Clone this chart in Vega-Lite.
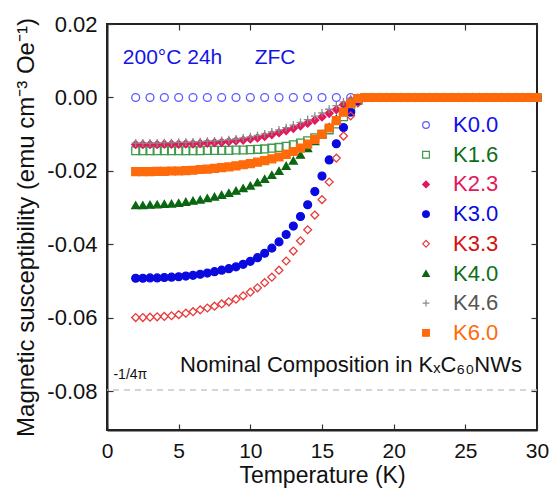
{
  "$schema": "https://vega.github.io/schema/vega-lite/v6.json",
  "width": 430,
  "height": 406,
  "autosize": {"type": "none"},
  "padding": {"left": 107, "top": 24, "right": 13, "bottom": 65},
  "background": "white",
  "config": {
    "font": "Liberation Sans",
    "view": {"stroke": "#222", "strokeWidth": 2},
    "axis": {
      "grid": false,
      "domainColor": "#222",
      "domainWidth": 2,
      "tickColor": "#333",
      "tickSize": -6,
      "tickWidth": 1.2,
      "labelFont": "Liberation Sans",
      "labelFontSize": 21,
      "labelColor": "#111",
      "labelFlush": false,
      "titleFont": "Liberation Sans",
      "titleFontSize": 23,
      "titleFontWeight": "normal",
      "titleColor": "#111"
    }
  },
  "resolve": {"axis": {"x": "independent", "y": "independent"}},
  "layer": [
    {
      "data": {"values": [{}]},
      "mark": {"type": "rule", "color": "#c8c8c8", "strokeDash": [6, 5], "strokeWidth": 1.5},
      "encoding": {
        "y": {"datum": -0.0796, "type": "quantitative", "axis": null}
      }
    },
    {
      "data": {
        "values": [
          {"s": "K0.0", "T": 2, "chi": 0}, {"s": "K0.0", "T": 3, "chi": 0}, {"s": "K0.0", "T": 4, "chi": 0}, {"s": "K0.0", "T": 5, "chi": 0},
          {"s": "K0.0", "T": 6, "chi": 0}, {"s": "K0.0", "T": 7, "chi": 0}, {"s": "K0.0", "T": 8, "chi": 0}, {"s": "K0.0", "T": 9, "chi": 0},
          {"s": "K0.0", "T": 10, "chi": 0}, {"s": "K0.0", "T": 11, "chi": 0}, {"s": "K0.0", "T": 12, "chi": 0}, {"s": "K0.0", "T": 13, "chi": 0},
          {"s": "K0.0", "T": 14, "chi": 0}, {"s": "K0.0", "T": 15, "chi": 0}, {"s": "K0.0", "T": 16, "chi": 0}, {"s": "K0.0", "T": 17, "chi": 0},
          {"s": "K0.0", "T": 18, "chi": 0}, {"s": "K0.0", "T": 19, "chi": 0}, {"s": "K0.0", "T": 20, "chi": 0}, {"s": "K0.0", "T": 21, "chi": 0},
          {"s": "K0.0", "T": 22, "chi": 0}, {"s": "K0.0", "T": 23, "chi": 0}, {"s": "K0.0", "T": 24, "chi": 0}, {"s": "K0.0", "T": 25, "chi": 0},
          {"s": "K0.0", "T": 26, "chi": 0}, {"s": "K0.0", "T": 27, "chi": 0}, {"s": "K0.0", "T": 28, "chi": 0}, {"s": "K0.0", "T": 29, "chi": 0},
          {"s": "K0.0", "T": 30, "chi": 0},

          {"s": "K1.6", "T": 2, "chi": -0.0145}, {"s": "K1.6", "T": 2.5, "chi": -0.0145}, {"s": "K1.6", "T": 3, "chi": -0.0145}, {"s": "K1.6", "T": 3.5, "chi": -0.0145},
          {"s": "K1.6", "T": 4, "chi": -0.0145}, {"s": "K1.6", "T": 4.5, "chi": -0.0145}, {"s": "K1.6", "T": 5, "chi": -0.0145}, {"s": "K1.6", "T": 5.5, "chi": -0.0145},
          {"s": "K1.6", "T": 6, "chi": -0.0145}, {"s": "K1.6", "T": 6.5, "chi": -0.0145}, {"s": "K1.6", "T": 7, "chi": -0.0144}, {"s": "K1.6", "T": 7.5, "chi": -0.0144},
          {"s": "K1.6", "T": 8, "chi": -0.0144}, {"s": "K1.6", "T": 8.5, "chi": -0.0144}, {"s": "K1.6", "T": 9, "chi": -0.0143}, {"s": "K1.6", "T": 9.5, "chi": -0.0143},
          {"s": "K1.6", "T": 10, "chi": -0.0142}, {"s": "K1.6", "T": 10.5, "chi": -0.0141}, {"s": "K1.6", "T": 11, "chi": -0.014}, {"s": "K1.6", "T": 11.5, "chi": -0.0138},
          {"s": "K1.6", "T": 12, "chi": -0.0136}, {"s": "K1.6", "T": 12.5, "chi": -0.0133}, {"s": "K1.6", "T": 13, "chi": -0.0129}, {"s": "K1.6", "T": 13.5, "chi": -0.0124},
          {"s": "K1.6", "T": 14, "chi": -0.0118}, {"s": "K1.6", "T": 14.5, "chi": -0.011}, {"s": "K1.6", "T": 15, "chi": -0.01}, {"s": "K1.6", "T": 15.5, "chi": -0.0088},
          {"s": "K1.6", "T": 16, "chi": -0.0072}, {"s": "K1.6", "T": 16.5, "chi": -0.0052}, {"s": "K1.6", "T": 17, "chi": -0.0028}, {"s": "K1.6", "T": 17.5, "chi": -0.0008},
          {"s": "K1.6", "T": 18, "chi": 0}, {"s": "K1.6", "T": 18.5, "chi": 0}, {"s": "K1.6", "T": 19, "chi": 0}, {"s": "K1.6", "T": 19.5, "chi": 0},
          {"s": "K1.6", "T": 20, "chi": 0}, {"s": "K1.6", "T": 20.5, "chi": 0}, {"s": "K1.6", "T": 21, "chi": 0}, {"s": "K1.6", "T": 21.5, "chi": 0},
          {"s": "K1.6", "T": 22, "chi": 0}, {"s": "K1.6", "T": 22.5, "chi": 0}, {"s": "K1.6", "T": 23, "chi": 0}, {"s": "K1.6", "T": 23.5, "chi": 0},
          {"s": "K1.6", "T": 24, "chi": 0}, {"s": "K1.6", "T": 24.5, "chi": 0}, {"s": "K1.6", "T": 25, "chi": 0}, {"s": "K1.6", "T": 25.5, "chi": 0},
          {"s": "K1.6", "T": 26, "chi": 0}, {"s": "K1.6", "T": 26.5, "chi": 0}, {"s": "K1.6", "T": 27, "chi": 0}, {"s": "K1.6", "T": 27.5, "chi": 0},
          {"s": "K1.6", "T": 28, "chi": 0}, {"s": "K1.6", "T": 28.5, "chi": 0}, {"s": "K1.6", "T": 29, "chi": 0}, {"s": "K1.6", "T": 29.5, "chi": 0},
          {"s": "K1.6", "T": 30, "chi": 0},

          {"s": "K2.3", "T": 2, "chi": -0.0128}, {"s": "K2.3", "T": 2.5, "chi": -0.0128}, {"s": "K2.3", "T": 3, "chi": -0.0128}, {"s": "K2.3", "T": 3.5, "chi": -0.0128},
          {"s": "K2.3", "T": 4, "chi": -0.0127}, {"s": "K2.3", "T": 4.5, "chi": -0.0127}, {"s": "K2.3", "T": 5, "chi": -0.0127}, {"s": "K2.3", "T": 5.5, "chi": -0.0126},
          {"s": "K2.3", "T": 6, "chi": -0.0126}, {"s": "K2.3", "T": 6.5, "chi": -0.0125}, {"s": "K2.3", "T": 7, "chi": -0.0124}, {"s": "K2.3", "T": 7.5, "chi": -0.0123},
          {"s": "K2.3", "T": 8, "chi": -0.0122}, {"s": "K2.3", "T": 8.5, "chi": -0.012}, {"s": "K2.3", "T": 9, "chi": -0.0118}, {"s": "K2.3", "T": 9.5, "chi": -0.0116},
          {"s": "K2.3", "T": 10, "chi": -0.0113}, {"s": "K2.3", "T": 10.5, "chi": -0.011}, {"s": "K2.3", "T": 11, "chi": -0.0106}, {"s": "K2.3", "T": 11.5, "chi": -0.0101},
          {"s": "K2.3", "T": 12, "chi": -0.0096}, {"s": "K2.3", "T": 12.5, "chi": -0.009}, {"s": "K2.3", "T": 13, "chi": -0.0084}, {"s": "K2.3", "T": 13.5, "chi": -0.0077},
          {"s": "K2.3", "T": 14, "chi": -0.007}, {"s": "K2.3", "T": 14.5, "chi": -0.0062}, {"s": "K2.3", "T": 15, "chi": -0.0053}, {"s": "K2.3", "T": 15.5, "chi": -0.0043},
          {"s": "K2.3", "T": 16, "chi": -0.0033}, {"s": "K2.3", "T": 16.5, "chi": -0.002}, {"s": "K2.3", "T": 17, "chi": -0.0008}, {"s": "K2.3", "T": 17.5, "chi": -0.0002},
          {"s": "K2.3", "T": 18, "chi": 0}, {"s": "K2.3", "T": 18.5, "chi": 0}, {"s": "K2.3", "T": 19, "chi": 0}, {"s": "K2.3", "T": 19.5, "chi": 0},
          {"s": "K2.3", "T": 20, "chi": 0}, {"s": "K2.3", "T": 20.5, "chi": 0}, {"s": "K2.3", "T": 21, "chi": 0}, {"s": "K2.3", "T": 21.5, "chi": 0},
          {"s": "K2.3", "T": 22, "chi": 0}, {"s": "K2.3", "T": 22.5, "chi": 0}, {"s": "K2.3", "T": 23, "chi": 0}, {"s": "K2.3", "T": 23.5, "chi": 0},
          {"s": "K2.3", "T": 24, "chi": 0}, {"s": "K2.3", "T": 24.5, "chi": 0}, {"s": "K2.3", "T": 25, "chi": 0}, {"s": "K2.3", "T": 25.5, "chi": 0},
          {"s": "K2.3", "T": 26, "chi": 0}, {"s": "K2.3", "T": 26.5, "chi": 0}, {"s": "K2.3", "T": 27, "chi": 0}, {"s": "K2.3", "T": 27.5, "chi": 0},
          {"s": "K2.3", "T": 28, "chi": 0}, {"s": "K2.3", "T": 28.5, "chi": 0}, {"s": "K2.3", "T": 29, "chi": 0}, {"s": "K2.3", "T": 29.5, "chi": 0},
          {"s": "K2.3", "T": 30, "chi": 0},

          {"s": "K3.0", "T": 2, "chi": -0.0492}, {"s": "K3.0", "T": 2.5, "chi": -0.0492}, {"s": "K3.0", "T": 3, "chi": -0.0491}, {"s": "K3.0", "T": 3.5, "chi": -0.0491},
          {"s": "K3.0", "T": 4, "chi": -0.049}, {"s": "K3.0", "T": 4.5, "chi": -0.0489}, {"s": "K3.0", "T": 5, "chi": -0.0488}, {"s": "K3.0", "T": 5.5, "chi": -0.0486},
          {"s": "K3.0", "T": 6, "chi": -0.0484}, {"s": "K3.0", "T": 6.5, "chi": -0.0481}, {"s": "K3.0", "T": 7, "chi": -0.0478}, {"s": "K3.0", "T": 7.5, "chi": -0.0474},
          {"s": "K3.0", "T": 8, "chi": -0.047}, {"s": "K3.0", "T": 8.5, "chi": -0.0466}, {"s": "K3.0", "T": 9, "chi": -0.0461}, {"s": "K3.0", "T": 9.5, "chi": -0.0454},
          {"s": "K3.0", "T": 10, "chi": -0.0446}, {"s": "K3.0", "T": 10.5, "chi": -0.0436}, {"s": "K3.0", "T": 11, "chi": -0.0424}, {"s": "K3.0", "T": 11.5, "chi": -0.041},
          {"s": "K3.0", "T": 12, "chi": -0.0393}, {"s": "K3.0", "T": 12.5, "chi": -0.0373}, {"s": "K3.0", "T": 13, "chi": -0.035}, {"s": "K3.0", "T": 13.5, "chi": -0.0324},
          {"s": "K3.0", "T": 14, "chi": -0.0292}, {"s": "K3.0", "T": 14.5, "chi": -0.0256}, {"s": "K3.0", "T": 15, "chi": -0.0214}, {"s": "K3.0", "T": 15.5, "chi": -0.017},
          {"s": "K3.0", "T": 16, "chi": -0.0126}, {"s": "K3.0", "T": 16.5, "chi": -0.0082}, {"s": "K3.0", "T": 17, "chi": -0.004}, {"s": "K3.0", "T": 17.5, "chi": -0.001},
          {"s": "K3.0", "T": 18, "chi": 0}, {"s": "K3.0", "T": 18.5, "chi": 0}, {"s": "K3.0", "T": 19, "chi": 0}, {"s": "K3.0", "T": 19.5, "chi": 0},
          {"s": "K3.0", "T": 20, "chi": 0}, {"s": "K3.0", "T": 20.5, "chi": 0}, {"s": "K3.0", "T": 21, "chi": 0}, {"s": "K3.0", "T": 21.5, "chi": 0},
          {"s": "K3.0", "T": 22, "chi": 0}, {"s": "K3.0", "T": 22.5, "chi": 0}, {"s": "K3.0", "T": 23, "chi": 0}, {"s": "K3.0", "T": 23.5, "chi": 0},
          {"s": "K3.0", "T": 24, "chi": 0}, {"s": "K3.0", "T": 24.5, "chi": 0}, {"s": "K3.0", "T": 25, "chi": 0}, {"s": "K3.0", "T": 25.5, "chi": 0},
          {"s": "K3.0", "T": 26, "chi": 0}, {"s": "K3.0", "T": 26.5, "chi": 0}, {"s": "K3.0", "T": 27, "chi": 0}, {"s": "K3.0", "T": 27.5, "chi": 0},
          {"s": "K3.0", "T": 28, "chi": 0}, {"s": "K3.0", "T": 28.5, "chi": 0}, {"s": "K3.0", "T": 29, "chi": 0}, {"s": "K3.0", "T": 29.5, "chi": 0},
          {"s": "K3.0", "T": 30, "chi": 0},

          {"s": "K3.3", "T": 2, "chi": -0.0599}, {"s": "K3.3", "T": 2.5, "chi": -0.0599}, {"s": "K3.3", "T": 3, "chi": -0.0598}, {"s": "K3.3", "T": 3.5, "chi": -0.0597},
          {"s": "K3.3", "T": 4, "chi": -0.0596}, {"s": "K3.3", "T": 4.5, "chi": -0.0594}, {"s": "K3.3", "T": 5, "chi": -0.0591}, {"s": "K3.3", "T": 5.5, "chi": -0.0587},
          {"s": "K3.3", "T": 6, "chi": -0.0583}, {"s": "K3.3", "T": 6.5, "chi": -0.0578}, {"s": "K3.3", "T": 7, "chi": -0.0573}, {"s": "K3.3", "T": 7.5, "chi": -0.0568},
          {"s": "K3.3", "T": 8, "chi": -0.0562}, {"s": "K3.3", "T": 8.5, "chi": -0.0556}, {"s": "K3.3", "T": 9, "chi": -0.0549}, {"s": "K3.3", "T": 9.5, "chi": -0.054},
          {"s": "K3.3", "T": 10, "chi": -0.053}, {"s": "K3.3", "T": 10.5, "chi": -0.0518}, {"s": "K3.3", "T": 11, "chi": -0.0504}, {"s": "K3.3", "T": 11.5, "chi": -0.0489},
          {"s": "K3.3", "T": 12, "chi": -0.047}, {"s": "K3.3", "T": 12.5, "chi": -0.0445}, {"s": "K3.3", "T": 13, "chi": -0.0418}, {"s": "K3.3", "T": 13.5, "chi": -0.039},
          {"s": "K3.3", "T": 14, "chi": -0.036}, {"s": "K3.3", "T": 14.5, "chi": -0.032}, {"s": "K3.3", "T": 15, "chi": -0.0278}, {"s": "K3.3", "T": 15.5, "chi": -0.023},
          {"s": "K3.3", "T": 16, "chi": -0.0165}, {"s": "K3.3", "T": 16.5, "chi": -0.0105}, {"s": "K3.3", "T": 17, "chi": -0.005}, {"s": "K3.3", "T": 17.5, "chi": -0.0015},
          {"s": "K3.3", "T": 18, "chi": 0}, {"s": "K3.3", "T": 18.5, "chi": 0}, {"s": "K3.3", "T": 19, "chi": 0}, {"s": "K3.3", "T": 19.5, "chi": 0},
          {"s": "K3.3", "T": 20, "chi": 0}, {"s": "K3.3", "T": 20.5, "chi": 0}, {"s": "K3.3", "T": 21, "chi": 0}, {"s": "K3.3", "T": 21.5, "chi": 0},
          {"s": "K3.3", "T": 22, "chi": 0}, {"s": "K3.3", "T": 22.5, "chi": 0}, {"s": "K3.3", "T": 23, "chi": 0}, {"s": "K3.3", "T": 23.5, "chi": 0},
          {"s": "K3.3", "T": 24, "chi": 0}, {"s": "K3.3", "T": 24.5, "chi": 0}, {"s": "K3.3", "T": 25, "chi": 0}, {"s": "K3.3", "T": 25.5, "chi": 0},
          {"s": "K3.3", "T": 26, "chi": 0}, {"s": "K3.3", "T": 26.5, "chi": 0}, {"s": "K3.3", "T": 27, "chi": 0}, {"s": "K3.3", "T": 27.5, "chi": 0},
          {"s": "K3.3", "T": 28, "chi": 0}, {"s": "K3.3", "T": 28.5, "chi": 0}, {"s": "K3.3", "T": 29, "chi": 0}, {"s": "K3.3", "T": 29.5, "chi": 0},
          {"s": "K3.3", "T": 30, "chi": 0},

          {"s": "K4.0", "T": 2, "chi": -0.0293}, {"s": "K4.0", "T": 2.5, "chi": -0.0293}, {"s": "K4.0", "T": 3, "chi": -0.0292}, {"s": "K4.0", "T": 3.5, "chi": -0.0291},
          {"s": "K4.0", "T": 4, "chi": -0.029}, {"s": "K4.0", "T": 4.5, "chi": -0.0289}, {"s": "K4.0", "T": 5, "chi": -0.0287}, {"s": "K4.0", "T": 5.5, "chi": -0.0284},
          {"s": "K4.0", "T": 6, "chi": -0.0281}, {"s": "K4.0", "T": 6.5, "chi": -0.0278}, {"s": "K4.0", "T": 7, "chi": -0.0274}, {"s": "K4.0", "T": 7.5, "chi": -0.027},
          {"s": "K4.0", "T": 8, "chi": -0.0265}, {"s": "K4.0", "T": 8.5, "chi": -0.026}, {"s": "K4.0", "T": 9, "chi": -0.0254}, {"s": "K4.0", "T": 9.5, "chi": -0.0247},
          {"s": "K4.0", "T": 10, "chi": -0.024}, {"s": "K4.0", "T": 10.5, "chi": -0.0231}, {"s": "K4.0", "T": 11, "chi": -0.0222}, {"s": "K4.0", "T": 11.5, "chi": -0.0211},
          {"s": "K4.0", "T": 12, "chi": -0.02}, {"s": "K4.0", "T": 12.5, "chi": -0.0186}, {"s": "K4.0", "T": 13, "chi": -0.0172}, {"s": "K4.0", "T": 13.5, "chi": -0.0156},
          {"s": "K4.0", "T": 14, "chi": -0.0138}, {"s": "K4.0", "T": 14.5, "chi": -0.0119}, {"s": "K4.0", "T": 15, "chi": -0.01}, {"s": "K4.0", "T": 15.5, "chi": -0.008},
          {"s": "K4.0", "T": 16, "chi": -0.0058}, {"s": "K4.0", "T": 16.5, "chi": -0.0035}, {"s": "K4.0", "T": 17, "chi": -0.0014}, {"s": "K4.0", "T": 17.5, "chi": -0.0003},
          {"s": "K4.0", "T": 18, "chi": 0}, {"s": "K4.0", "T": 18.5, "chi": 0}, {"s": "K4.0", "T": 19, "chi": 0}, {"s": "K4.0", "T": 19.5, "chi": 0},
          {"s": "K4.0", "T": 20, "chi": 0}, {"s": "K4.0", "T": 20.5, "chi": 0}, {"s": "K4.0", "T": 21, "chi": 0}, {"s": "K4.0", "T": 21.5, "chi": 0},
          {"s": "K4.0", "T": 22, "chi": 0}, {"s": "K4.0", "T": 22.5, "chi": 0}, {"s": "K4.0", "T": 23, "chi": 0}, {"s": "K4.0", "T": 23.5, "chi": 0},
          {"s": "K4.0", "T": 24, "chi": 0}, {"s": "K4.0", "T": 24.5, "chi": 0}, {"s": "K4.0", "T": 25, "chi": 0}, {"s": "K4.0", "T": 25.5, "chi": 0},
          {"s": "K4.0", "T": 26, "chi": 0}, {"s": "K4.0", "T": 26.5, "chi": 0}, {"s": "K4.0", "T": 27, "chi": 0}, {"s": "K4.0", "T": 27.5, "chi": 0},
          {"s": "K4.0", "T": 28, "chi": 0}, {"s": "K4.0", "T": 28.5, "chi": 0}, {"s": "K4.0", "T": 29, "chi": 0}, {"s": "K4.0", "T": 29.5, "chi": 0},
          {"s": "K4.0", "T": 30, "chi": 0},

          {"s": "K4.6", "T": 2, "chi": -0.0124}, {"s": "K4.6", "T": 2.5, "chi": -0.0124}, {"s": "K4.6", "T": 3, "chi": -0.0124}, {"s": "K4.6", "T": 3.5, "chi": -0.0124},
          {"s": "K4.6", "T": 4, "chi": -0.0123}, {"s": "K4.6", "T": 4.5, "chi": -0.0123}, {"s": "K4.6", "T": 5, "chi": -0.0122}, {"s": "K4.6", "T": 5.5, "chi": -0.0122},
          {"s": "K4.6", "T": 6, "chi": -0.0121}, {"s": "K4.6", "T": 6.5, "chi": -0.012}, {"s": "K4.6", "T": 7, "chi": -0.0119}, {"s": "K4.6", "T": 7.5, "chi": -0.0118},
          {"s": "K4.6", "T": 8, "chi": -0.0117}, {"s": "K4.6", "T": 8.5, "chi": -0.0115}, {"s": "K4.6", "T": 9, "chi": -0.0113}, {"s": "K4.6", "T": 9.5, "chi": -0.011},
          {"s": "K4.6", "T": 10, "chi": -0.0107}, {"s": "K4.6", "T": 10.5, "chi": -0.0103}, {"s": "K4.6", "T": 11, "chi": -0.0099}, {"s": "K4.6", "T": 11.5, "chi": -0.0094},
          {"s": "K4.6", "T": 12, "chi": -0.0088}, {"s": "K4.6", "T": 12.5, "chi": -0.0082}, {"s": "K4.6", "T": 13, "chi": -0.0075}, {"s": "K4.6", "T": 13.5, "chi": -0.0068},
          {"s": "K4.6", "T": 14, "chi": -0.006}, {"s": "K4.6", "T": 14.5, "chi": -0.0051}, {"s": "K4.6", "T": 15, "chi": -0.0042}, {"s": "K4.6", "T": 15.5, "chi": -0.0032},
          {"s": "K4.6", "T": 16, "chi": -0.0022}, {"s": "K4.6", "T": 16.5, "chi": -0.0012}, {"s": "K4.6", "T": 17, "chi": -0.0004}, {"s": "K4.6", "T": 17.5, "chi": -0.0001},
          {"s": "K4.6", "T": 18, "chi": 0}, {"s": "K4.6", "T": 18.5, "chi": 0}, {"s": "K4.6", "T": 19, "chi": 0}, {"s": "K4.6", "T": 19.5, "chi": 0},
          {"s": "K4.6", "T": 20, "chi": 0}, {"s": "K4.6", "T": 20.5, "chi": 0}, {"s": "K4.6", "T": 21, "chi": 0}, {"s": "K4.6", "T": 21.5, "chi": 0},
          {"s": "K4.6", "T": 22, "chi": 0}, {"s": "K4.6", "T": 22.5, "chi": 0}, {"s": "K4.6", "T": 23, "chi": 0}, {"s": "K4.6", "T": 23.5, "chi": 0},
          {"s": "K4.6", "T": 24, "chi": 0}, {"s": "K4.6", "T": 24.5, "chi": 0}, {"s": "K4.6", "T": 25, "chi": 0}, {"s": "K4.6", "T": 25.5, "chi": 0},
          {"s": "K4.6", "T": 26, "chi": 0}, {"s": "K4.6", "T": 26.5, "chi": 0}, {"s": "K4.6", "T": 27, "chi": 0}, {"s": "K4.6", "T": 27.5, "chi": 0},
          {"s": "K4.6", "T": 28, "chi": 0}, {"s": "K4.6", "T": 28.5, "chi": 0}, {"s": "K4.6", "T": 29, "chi": 0}, {"s": "K4.6", "T": 29.5, "chi": 0},
          {"s": "K4.6", "T": 30, "chi": 0},

          {"s": "K6.0", "T": 2, "chi": -0.0202}, {"s": "K6.0", "T": 2.5, "chi": -0.0202}, {"s": "K6.0", "T": 3, "chi": -0.0202}, {"s": "K6.0", "T": 3.5, "chi": -0.0201},
          {"s": "K6.0", "T": 4, "chi": -0.0201}, {"s": "K6.0", "T": 4.5, "chi": -0.02}, {"s": "K6.0", "T": 5, "chi": -0.02}, {"s": "K6.0", "T": 5.5, "chi": -0.0199},
          {"s": "K6.0", "T": 6, "chi": -0.0198}, {"s": "K6.0", "T": 6.5, "chi": -0.0196}, {"s": "K6.0", "T": 7, "chi": -0.0195}, {"s": "K6.0", "T": 7.5, "chi": -0.0193},
          {"s": "K6.0", "T": 8, "chi": -0.0191}, {"s": "K6.0", "T": 8.5, "chi": -0.0189}, {"s": "K6.0", "T": 9, "chi": -0.0186}, {"s": "K6.0", "T": 9.5, "chi": -0.0183},
          {"s": "K6.0", "T": 10, "chi": -0.018}, {"s": "K6.0", "T": 10.5, "chi": -0.0176}, {"s": "K6.0", "T": 11, "chi": -0.0172}, {"s": "K6.0", "T": 11.5, "chi": -0.0167},
          {"s": "K6.0", "T": 12, "chi": -0.0162}, {"s": "K6.0", "T": 12.5, "chi": -0.0155}, {"s": "K6.0", "T": 13, "chi": -0.0147}, {"s": "K6.0", "T": 13.5, "chi": -0.0138},
          {"s": "K6.0", "T": 14, "chi": -0.0127}, {"s": "K6.0", "T": 14.5, "chi": -0.0114}, {"s": "K6.0", "T": 15, "chi": -0.01}, {"s": "K6.0", "T": 15.5, "chi": -0.0083},
          {"s": "K6.0", "T": 16, "chi": -0.0063}, {"s": "K6.0", "T": 16.5, "chi": -0.004}, {"s": "K6.0", "T": 17, "chi": -0.0017}, {"s": "K6.0", "T": 17.5, "chi": -0.0003},
          {"s": "K6.0", "T": 18, "chi": 0}, {"s": "K6.0", "T": 18.5, "chi": 0}, {"s": "K6.0", "T": 19, "chi": 0}, {"s": "K6.0", "T": 19.5, "chi": 0},
          {"s": "K6.0", "T": 20, "chi": 0}, {"s": "K6.0", "T": 20.5, "chi": 0}, {"s": "K6.0", "T": 21, "chi": 0}, {"s": "K6.0", "T": 21.5, "chi": 0},
          {"s": "K6.0", "T": 22, "chi": 0}, {"s": "K6.0", "T": 22.5, "chi": 0}, {"s": "K6.0", "T": 23, "chi": 0}, {"s": "K6.0", "T": 23.5, "chi": 0},
          {"s": "K6.0", "T": 24, "chi": 0}, {"s": "K6.0", "T": 24.5, "chi": 0}, {"s": "K6.0", "T": 25, "chi": 0}, {"s": "K6.0", "T": 25.5, "chi": 0},
          {"s": "K6.0", "T": 26, "chi": 0}, {"s": "K6.0", "T": 26.5, "chi": 0}, {"s": "K6.0", "T": 27, "chi": 0}, {"s": "K6.0", "T": 27.5, "chi": 0},
          {"s": "K6.0", "T": 28, "chi": 0}, {"s": "K6.0", "T": 28.5, "chi": 0}, {"s": "K6.0", "T": 29, "chi": 0}, {"s": "K6.0", "T": 29.5, "chi": 0},
          {"s": "K6.0", "T": 30, "chi": 0}
        ]
      },
      "mark": {"type": "point", "size": 62, "strokeWidth": 1.3, "opacity": 1},
      "encoding": {
        "x": {
          "field": "T",
          "type": "quantitative",
          "scale": {"domain": [0, 30], "nice": false, "zero": false},
          "axis": {
            "orient": "bottom",
            "values": [0, 5, 10, 15, 20, 25, 30],
            "title": "Temperature (K)",
            "labelPadding": 16,
            "titlePadding": 3
          }
        },
        "y": {
          "field": "chi",
          "type": "quantitative",
          "scale": {"domain": [-0.0905, 0.02], "nice": false, "zero": false},
          "axis": {
            "orient": "left",
            "values": [-0.08, -0.06, -0.04, -0.02, 0, 0.02],
            "format": ".2f",
            "labelExpr": "replace(datum.label, '−', '-')",
            "labelFontSize": 22,
            "title": "Magnetic susceptibility (emu cm⁻³ Oe⁻¹)",
            "titleFontSize": 24,
            "labelPadding": 16,
            "titlePadding": 8
          }
        },
        "shape": {
          "field": "s",
          "type": "nominal",
          "scale": {
            "domain": ["K0.0", "K1.6", "K2.3", "K3.0", "K3.3", "K4.0", "K4.6", "K6.0"],
            "range": ["circle", "square", "diamond", "circle", "diamond", "triangle-up", "M-1,0H1M0,-1V1", "square"]
          },
          "legend": {
            "orient": "none",
            "legendX": 308,
            "legendY": 90,
            "title": null,
            "padding": 0,
            "symbolSize": 45,
            "symbolStrokeWidth": 1.2,
            "labelFontSize": 22,
            "labelFont": "Liberation Sans",
            "labelOffset": 16,
            "rowPadding": 7.7,
            "labelColor": {"expr": "{'K0.0':'#1010ee','K1.6':'#0d6e1a','K2.3':'#e2195b','K3.0':'#0a0ae0','K3.3':'#d41010','K4.0':'#0d6e1a','K4.6':'#555555','K6.0':'#ff6a0a'}[datum.label]"}
          }
        },
        "fill": {
          "field": "s",
          "type": "nominal",
          "scale": {
            "domain": ["K0.0", "K1.6", "K2.3", "K3.0", "K3.3", "K4.0", "K4.6", "K6.0"],
            "range": ["transparent", "transparent", "#e2195b", "#0a0ae0", "transparent", "#0b6612", "transparent", "#ff6a0a"]
          }
        },
        "stroke": {
          "field": "s",
          "type": "nominal",
          "scale": {
            "domain": ["K0.0", "K1.6", "K2.3", "K3.0", "K3.3", "K4.0", "K4.6", "K6.0"],
            "range": ["#5a5aff", "#3d9a4a", "#e2195b", "#0a0ae0", "#e83a3a", "#0b6612", "#8a8a8a", "#ff6a0a"]
          }
        }
      }
    },
    {
      "data": {"values": [{}]},
      "mark": {"type": "text", "align": "left", "baseline": "middle", "fontSize": 21, "color": "#1414e6", "font": "Liberation Sans"},
      "encoding": {
        "x": {"datum": 1.1, "type": "quantitative", "axis": {"orient": "top", "labels": false, "title": null, "domain": false, "values": [0, 5, 10, 15, 20, 25, 30]}},
        "y": {"datum": 0.0108, "type": "quantitative", "axis": {"orient": "right", "labels": false, "title": null, "domain": false, "values": [-0.08, -0.06, -0.04, -0.02, 0, 0.02]}},
        "text": {"value": "200°C 24h"}
      }
    },
    {
      "data": {"values": [{}]},
      "mark": {"type": "text", "align": "left", "baseline": "middle", "fontSize": 21, "color": "#1414e6", "font": "Liberation Sans"},
      "encoding": {
        "x": {"datum": 10.3, "type": "quantitative", "axis": null},
        "y": {"datum": 0.0108, "type": "quantitative", "axis": null},
        "text": {"value": "ZFC"}
      }
    },
    {
      "data": {"values": [{}]},
      "mark": {"type": "text", "align": "left", "baseline": "middle", "fontSize": 22, "color": "#111", "font": "Liberation Sans"},
      "encoding": {
        "x": {"datum": 5.1, "type": "quantitative", "axis": null},
        "y": {"datum": -0.0727, "type": "quantitative", "axis": null},
        "text": {"value": "Nominal Composition in KₓC₆₀NWs"}
      }
    },
    {
      "data": {"values": [{}]},
      "mark": {"type": "text", "align": "left", "baseline": "middle", "fontSize": 14, "color": "#111", "font": "Liberation Sans"},
      "encoding": {
        "x": {"datum": 0.45, "type": "quantitative", "axis": null},
        "y": {"datum": -0.0755, "type": "quantitative", "axis": null},
        "text": {"value": "-1/4π"}
      }
    }
  ]
}
